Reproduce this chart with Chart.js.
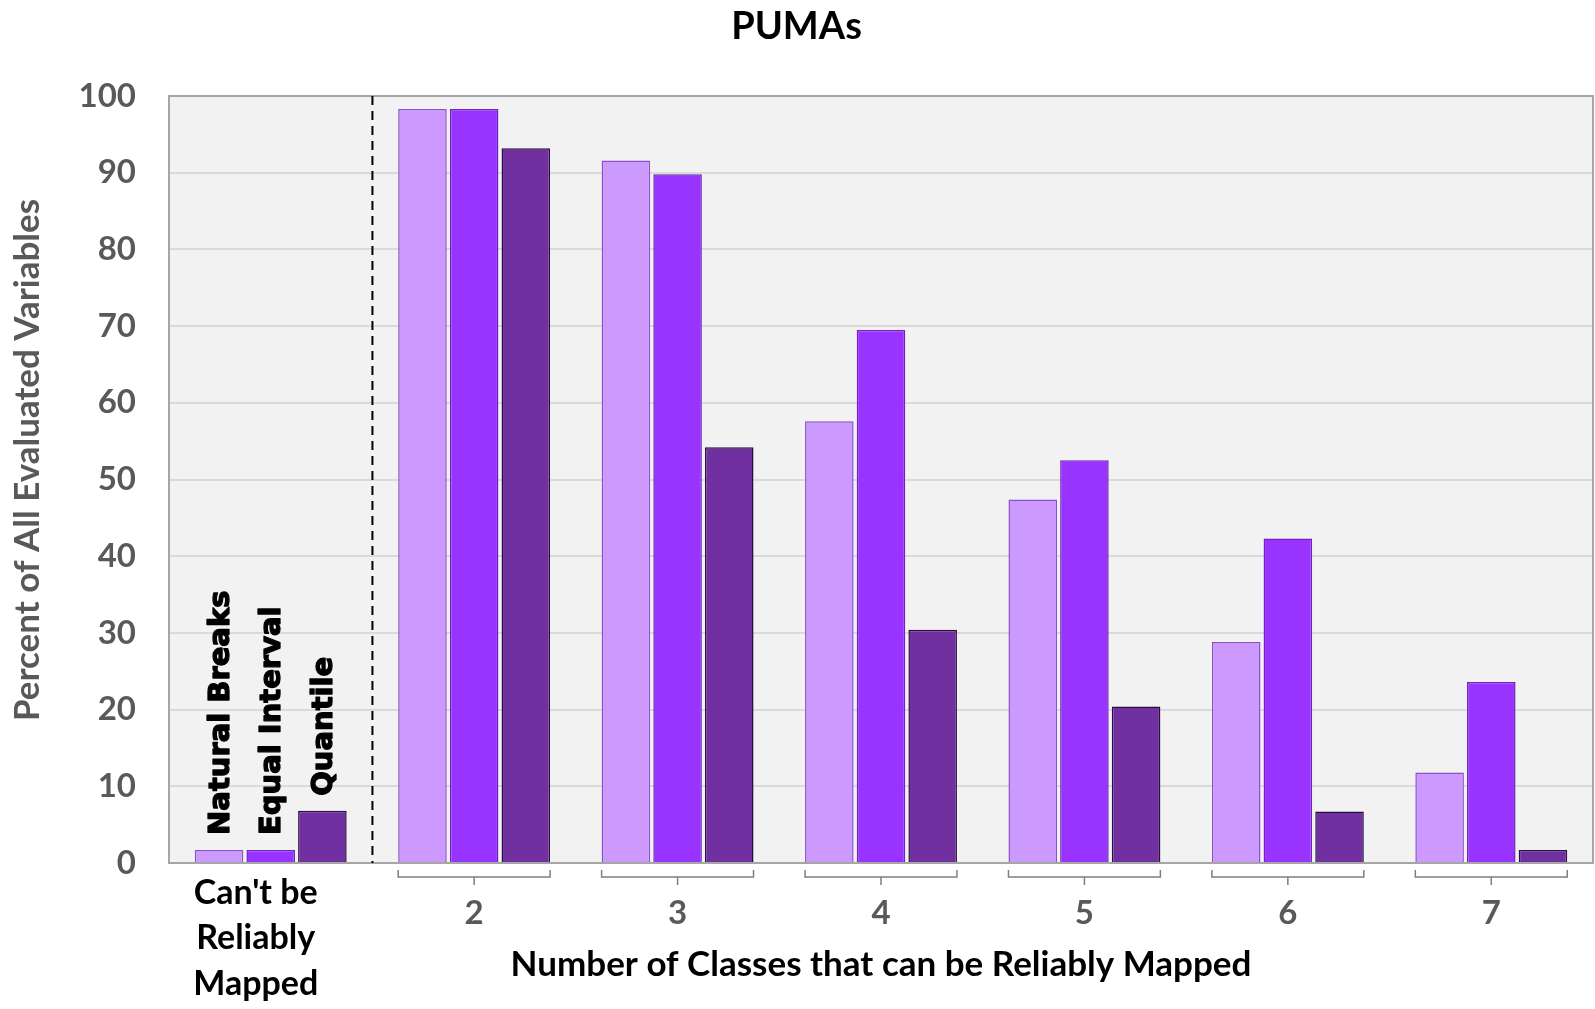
<!DOCTYPE html>
<html>
<head>
<meta charset="utf-8">
<script src="https://cdn.jsdelivr.net/npm/chart.js@4/dist/chart.umd.min.js"></script>
<style>
  html, body { margin: 0; padding: 0; background: #ffffff; }
  #wrap { width: 1595px; height: 1009px; }
</style>
</head>
<body>
<div id="wrap"><canvas id="chart" width="1595" height="1009"></canvas></div>
<script>
// Categories: number of classes that can be reliably mapped
const categories = [["Can't be", "Reliably", "Mapped"], "2", "3", "4", "5", "6", "7"];
const seriesNames = ["Natural Breaks", "Equal Interval", "Quantile"];

// Percent of all evaluated variables, per classification method
const naturalBreaks = [1.7, 98.3, 91.6, 57.6, 47.4, 28.8, 11.8];
const equalInterval = [1.7, 98.3, 89.8, 69.5, 52.5, 42.3, 23.6];
const quantile      = [6.8, 93.2, 54.2, 30.4, 20.4, 6.7, 1.7];

const yTickValues = [0, 10, 20, 30, 40, 50, 60, 70, 80, 90, 100];

const chartTitle = "PUMAs";
const xTitle = "Number of Classes that can be Reliably Mapped";
const yTitle = "Percent of All Evaluated Variables";

const FONT = "Lato, 'Noto Sans', sans-serif";
const GREY_TEXT = "#595959";

// Plot background, frame, separator, brackets and hand-placed labels
const decorations = {
  id: 'decorations',
  beforeDraw(chart) {
    const { ctx, chartArea: a } = chart;
    ctx.save();
    ctx.fillStyle = '#F2F2F2';
    ctx.fillRect(a.left, a.top, a.right - a.left, a.bottom - a.top);
    ctx.restore();
  },
  afterDatasetsDraw(chart) {
    const { ctx, chartArea: a } = chart;
    const xs = chart.scales.x;

    // frame around the plot
    ctx.save();
    ctx.strokeStyle = '#A6A6A6';
    ctx.lineWidth = 2;
    ctx.strokeRect(a.left, a.top, a.right - a.left, a.bottom - a.top);
    ctx.restore();

    // dashed separator between the first group and the rest
    const sepX = (xs.getPixelForValue(0) + xs.getPixelForValue(1)) / 2;
    ctx.save();
    ctx.strokeStyle = '#000000';
    ctx.lineWidth = 2;
    ctx.setLineDash([9, 6]);
    ctx.beginPath();
    ctx.moveTo(sepX, a.top);
    ctx.lineTo(sepX, a.bottom);
    ctx.stroke();
    ctx.restore();

    // vertical series names above the first group's bars
    ctx.save();
    ctx.fillStyle = '#000000';
    ctx.strokeStyle = '#000000';
    ctx.lineWidth = 1.3;
    ctx.lineJoin = 'round';
    ctx.font = "bold 29px 'DejaVu Sans'";
    ctx.textAlign = 'left';
    ctx.textBaseline = 'middle';
    chart.data.datasets.forEach((ds, d) => {
      const bar = chart.getDatasetMeta(d).data[0];
      ctx.save();
      ctx.translate(bar.x + 2, bar.y - 15);
      ctx.rotate(-Math.PI / 2);
      ctx.fillText(ds.label, 0, 0);
      ctx.strokeText(ds.label, 0, 0);
      ctx.restore();
    });
    ctx.restore();
  },
  afterDraw(chart) {
    const { ctx, chartArea: a } = chart;
    const xs = chart.scales.x;
    const m0 = chart.getDatasetMeta(0);
    const mLast = chart.getDatasetMeta(chart.data.datasets.length - 1);

    // brackets under each numbered group
    ctx.save();
    ctx.strokeStyle = '#7F7F7F';
    ctx.lineWidth = 1.5;
    for (let i = 1; i < categories.length; i++) {
      const b0 = m0.data[i], b2 = mLast.data[i];
      const l = b0.x - b0.width / 2, r = b2.x + b2.width / 2;
      const c = xs.getPixelForValue(i);
      const y0 = a.bottom + 7, y1 = a.bottom + 14, y2 = a.bottom + 22;
      ctx.beginPath();
      ctx.moveTo(l, y0); ctx.lineTo(l, y1); ctx.lineTo(r, y1); ctx.lineTo(r, y0);
      ctx.moveTo(c, y1); ctx.lineTo(c, y2);
      ctx.stroke();
    }
    ctx.restore();

    // multi-line label of the first category
    ctx.save();
    ctx.fillStyle = '#000000';
    ctx.font = `bold 34px ${FONT}`;
    ctx.textAlign = 'center';
    ctx.textBaseline = 'middle';
    const cx = xs.getPixelForValue(0) - 15;
    categories[0].forEach((line, k) => {
      ctx.fillText(line, cx, a.bottom + 30 + k * 45.5);
    });
    ctx.restore();

    // y axis title
    ctx.save();
    ctx.fillStyle = GREY_TEXT;
    ctx.font = `bold 35px ${FONT}`;
    ctx.textAlign = 'center';
    ctx.textBaseline = 'middle';
    ctx.translate(28, 460);
    ctx.rotate(-Math.PI / 2);
    ctx.fillText(yTitle, 0, 0);
    ctx.restore();
  }
};

new Chart(document.getElementById('chart'), {
  type: 'bar',
  data: {
    labels: categories,
    datasets: [
      { label: seriesNames[0], data: naturalBreaks, backgroundColor: '#CC99FF', borderColor: '#8E4FCB', borderWidth: 1.5 },
      { label: seriesNames[1], data: equalInterval, backgroundColor: '#9933FF', borderColor: '#6F22C0', borderWidth: 1.5 },
      { label: seriesNames[2], data: quantile,      backgroundColor: '#7030A0', borderColor: '#2A0E40', borderWidth: 1.5 }
    ]
  },
  options: {
    responsive: false,
    animation: false,
    devicePixelRatio: 1,
    categoryPercentage: 0.762,
    barPercentage: 0.94,
    layout: { padding: { left: 0, right: 2, top: 0, bottom: 0 } },
    plugins: {
      legend: { display: false },
      tooltip: { enabled: false },
      title: {
        display: true,
        text: chartTitle,
        color: '#000000',
        font: { family: FONT, size: 38, weight: 'bold' },
        padding: { top: 4, bottom: 46.4 }
      }
    },
    scales: {
      x: {
        grid: { display: false, drawTicks: false },
        border: { display: false },
        ticks: {
          color: GREY_TEXT,
          font: { family: FONT, size: 33, weight: 'bold' },
          padding: 31,
          maxRotation: 0,
          autoSkip: false,
          callback: (v, i) => (i === 0 ? '' : categories[i])
        },
        title: {
          display: true,
          text: xTitle,
          color: '#000000',
          font: { family: FONT, size: 35, weight: 'bold' },
          padding: { top: 7, bottom: 23 }
        },
        afterFit(scale) { scale.height = 146; }
      },
      y: {
        min: 0,
        max: 100,
        grid: {
          drawTicks: false,
          lineWidth: 2,
          color: (c) => (c.tick && (c.tick.value === 0 || c.tick.value === 100)) ? 'rgba(0,0,0,0)' : '#DADADA'
        },
        border: { display: false },
        afterBuildTicks(scale) { scale.ticks = yTickValues.map(v => ({ value: v })); },
        ticks: {
          color: GREY_TEXT,
          font: { family: FONT, size: 33, weight: 'bold' },
          padding: 33
        },
        afterFit(scale) { scale.width = 169; }
      }
    }
  },
  plugins: [decorations]
});
</script>
</body>
</html>
